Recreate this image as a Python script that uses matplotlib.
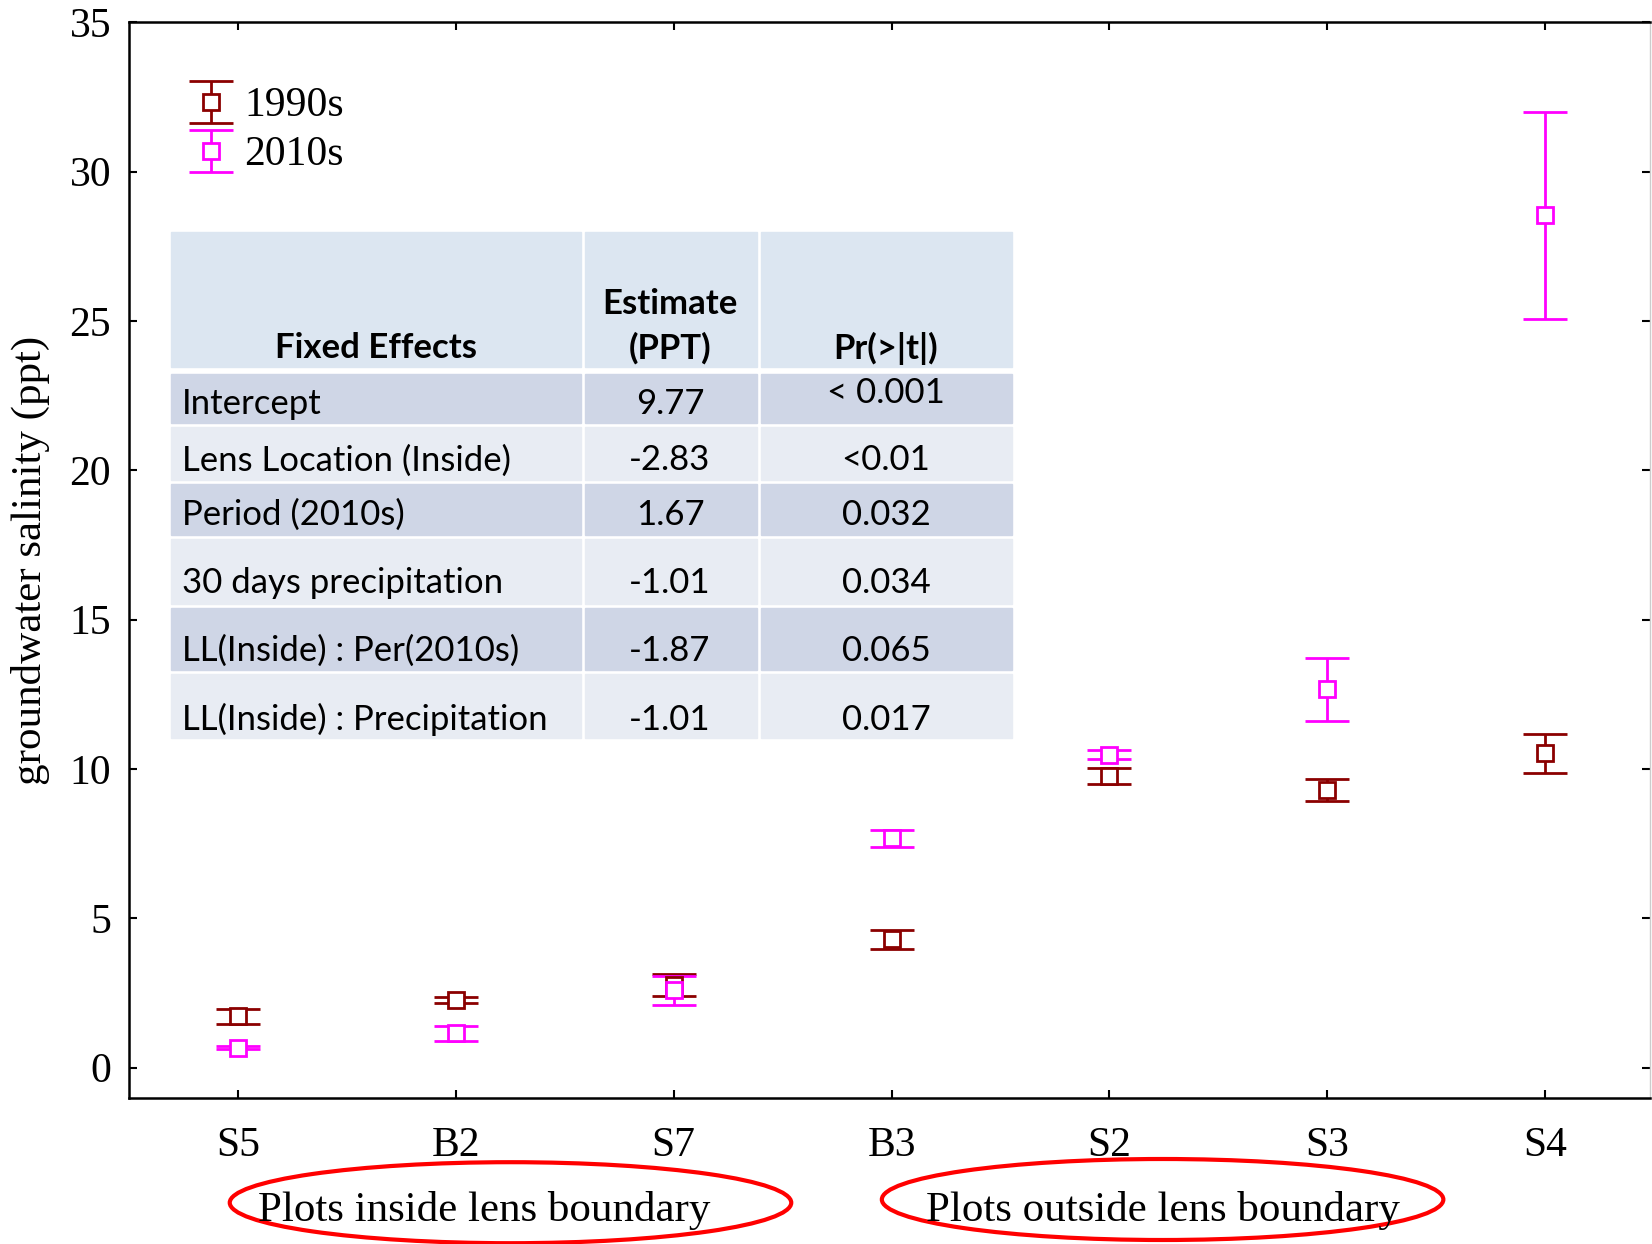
import matplotlib.pyplot as plt
from matplotlib import font_manager
from matplotlib.patches import Ellipse, Rectangle

sites = ['S5', 'B2', 'S7', 'B3', 'S2', 'S3', 'S4']
sal_1990s = [1.72, 2.26, 2.77, 4.29, 9.76, 9.28, 10.52]
err_1990s = [0.25, 0.09, 0.36, 0.33, 0.27, 0.37, 0.66]
sal_2010s = [0.67, 1.14, 2.58, 7.67, 10.48, 12.66, 28.54]
err_2010s = [0.04, 0.26, 0.50, 0.30, 0.15, 1.07, 3.47]

effects = ['Intercept', 'Lens Location (Inside)', 'Period (2010s)',
           '30 days precipitation', 'LL(Inside) : Per(2010s)', 'LL(Inside) : Precipitation']
estimates = ['9.77', '-2.83', '1.67', '-1.01', '-1.87', '-1.01']
pvalues = ['< 0.001', '<0.01', '0.032', '0.034', '0.065', '0.017']

W, H = 1652, 1244
serif = 'Liberation Serif'
names = {f.name for f in font_manager.fontManager.ttflist}
tfont = 'Liberation Sans Narrow' if 'Liberation Sans Narrow' in names else 'Lato'

plt.rcParams['font.family'] = serif
fig = plt.figure(figsize=(W / 100, H / 100), dpi=100)
ax = fig.add_axes([129.3 / W, 1 - 1098.3 / H, (1650 - 129.3) / W, (1098.3 - 22.3) / H])

x = list(range(len(sites)))
ax.errorbar(x, sal_1990s, yerr=err_1990s, fmt='s', color='#8b0000', mfc='white', mec='#8b0000',
            ms=12, mew=2, elinewidth=2, capsize=16, capthick=2, label='1990s', zorder=3)
ax.errorbar(x, sal_2010s, yerr=err_2010s, fmt='s', color='#ff00ff', mfc='white', mec='#ff00ff',
            ms=12, mew=2, elinewidth=2, capsize=16, capthick=2, label='2010s', zorder=3)

ax.set_xlim(-0.5, 6.483)
ax.set_ylim(-1.03, 35)
ax.set_xticks(x)
ax.set_xticklabels(sites)
ax.set_yticks(range(0, 36, 5))
ax.tick_params(direction='in', length=6, width=1.5, labelsize=30, top=True, right=True)
ax.tick_params(axis='x', pad=20)
ax.tick_params(axis='y', pad=13)
for s in ['left', 'top', 'bottom']:
    ax.spines[s].set_linewidth(1.8)
ax.spines['right'].set_color('#cccccc')
ax.spines['right'].set_linewidth(1)
ax.set_ylabel('groundwater salinity (ppt)', fontsize=31)
ax.yaxis.set_label_coords(-0.052, 0.5)

ax.legend(loc='upper left', bbox_to_anchor=(0.0425, 0.94), frameon=False, fontsize=30,
          handlelength=0.8, handletextpad=0.4, labelspacing=0.25, borderpad=0, borderaxespad=0)


# table drawn in figure pixels (y measured from top)
def fx(px):
    return px / W


def fy(py):
    return 1 - py / H


cols = [168.6, 582.6, 758.6, 1013.6]
rows = [371.9, 424.6, 481.5, 537.3, 605.8, 672.2, 739.6]
gap = 2
head_col = '#dce6f1'
row_cols = ['#cfd6e6', '#e8ecf3']
for c in range(3):
    fig.patches.append(Rectangle((fx(cols[c] + gap), fy(366.6)), fx(cols[c + 1] - cols[c] - 2 * gap),
                                 (366.6 - 231.8) / H, transform=fig.transFigure, color=head_col, zorder=5))
    for r in range(6):
        fig.patches.append(Rectangle((fx(cols[c] + gap), fy(rows[r + 1] - gap)),
                                     fx(cols[c + 1] - cols[c] - 2 * gap),
                                     (rows[r + 1] - rows[r] - 2 * gap) / H,
                                     transform=fig.transFigure, color=row_cols[r % 2], zorder=5))

tkw = dict(family=tfont, fontsize=25, zorder=6)
fig.text(fx(375.6), fy(348), 'Fixed Effects', ha='center', va='center', fontweight='bold', **tkw)
fig.text(fx(670), fy(304), 'Estimate', ha='center', va='center', fontweight='bold', **tkw)
fig.text(fx(670), fy(348), '(PPT)', ha='center', va='center', fontweight='bold', **tkw)
fig.text(fx(886), fy(348), 'Pr(>|t|)', ha='center', va='center', fontweight='bold', **tkw)
text_y = [403.5, 460.4, 515.2, 582.6, 651.1, 719.6]
for i in range(6):
    fig.text(fx(182.3), fy(text_y[i]), effects[i], ha='left', va='center', **tkw)
    fig.text(fx(670), fy(text_y[i]), estimates[i], ha='center', va='center', **tkw)
    py = 393 if i == 0 else text_y[i]
    fig.text(fx(886), fy(py), pvalues[i], ha='center', va='center', **tkw)

# group annotations under the x axis
for cx, cy, label in [(510.5, 1202.7, 'Plots inside lens boundary'),
                      (1162.6, 1199.5, 'Plots outside lens boundary')]:
    fig.patches.append(Ellipse((fx(cx), fy(cy)), 561.5 / W, 81 / H, transform=fig.transFigure,
                               fill=False, edgecolor='#ff0000', linewidth=3))
    fig.text(fx(cx - (26 if cx < 600 else 0)), fy(1210), label, ha='center', va='center', fontsize=31)

fig.savefig('out.png', dpi=100)
